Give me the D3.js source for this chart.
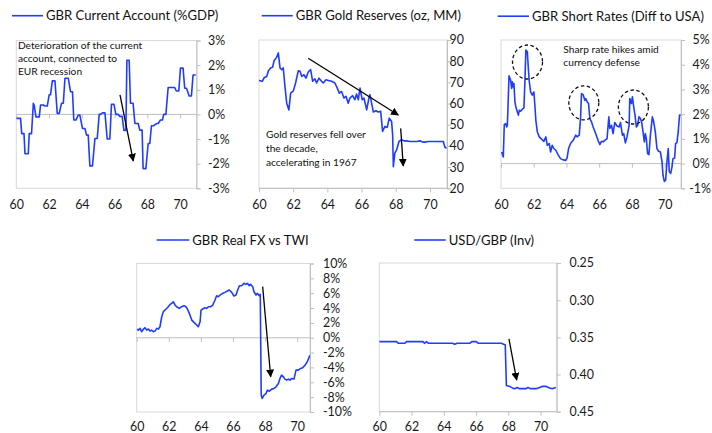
<!DOCTYPE html>
<html><head><meta charset="utf-8">
<script src="https://cdn.jsdelivr.net/npm/d3@7"></script>
<style>
html,body{margin:0;padding:0;background:#fff;}
svg{display:block;font-family:Lato,"Open Sans",sans-serif;}
</style></head><body>
<svg id="chart" width="712" height="433"></svg>
<script>
// ---- shared axis values ----
const yearTicks = [60, 62, 64, 66, 68, 70];

// ---- GBR current account, % of GDP ----
const caYears = [60.00,60.26,60.33,60.47,60.53,60.73,60.79,60.93,61.04,61.10,61.20,61.40,61.48,61.65,61.75,61.89,62.01,62.09,62.20,62.36,62.50,62.62,62.76,62.87,62.97,63.17,63.31,63.43,63.51,63.64,63.78,63.88,64.04,64.19,64.29,64.39,64.49,64.65,64.80,64.94,65.06,65.14,65.26,65.41,65.55,65.71,65.81,65.96,66.08,66.22,66.32,66.46,66.57,66.69,66.75,66.89,66.97,67.13,67.24,67.44,67.54,67.68,67.74,67.91,68.05,68.15,68.25,68.39,68.56,68.66,68.80,68.92,69.00,69.13,69.27,69.67,69.77,69.92,70.02,70.18,70.28,70.39,70.55,70.69,70.79,70.95];
const caValues = [-0.16,-0.16,-0.78,-0.78,-1.6,-1.6,-0.78,-0.78,0.45,0.35,-0.1,-0.1,0.38,0.38,0.34,0.34,0.8,0.8,1.36,1.36,0.04,0.04,0.45,0.45,1.47,1.47,0.92,0.92,-0.23,-0.23,-0.03,-0.03,-0.57,-0.57,-0.84,-0.84,-2.09,-2.09,-0.98,-0.98,0.0,0.0,0.06,0.06,-1.0,-1.0,0.41,0.41,0.0,0.0,-0.08,-0.08,-0.65,-0.65,2.2,2.2,0.45,0.45,-0.37,-0.37,-0.64,-0.64,-2.2,-2.2,-1.18,-1.18,-0.46,-0.46,-0.37,-0.37,-0.23,-0.23,0.0,0.0,1.09,1.09,0.95,0.95,1.88,1.88,1.06,1.06,0.75,0.75,1.6,1.6];
const caTicks = [-3, -2, -1, 0, 1, 2, 3];

// ---- GBR gold reserves, oz MM ----
const goldYears = [60.00,60.06,60.19,60.31,60.45,60.55,60.68,60.80,60.88,61.03,61.13,61.23,61.33,61.42,61.52,61.62,61.75,61.85,62.01,62.14,62.30,62.40,62.50,62.63,62.75,62.88,63.02,63.14,63.27,63.37,63.51,63.66,63.76,63.92,64.11,64.25,64.44,64.58,64.70,64.83,64.97,65.09,65.22,65.32,65.48,65.61,65.71,65.81,65.91,66.04,66.14,66.30,66.43,66.49,66.59,66.69,66.84,66.98,67.12,67.23,67.37,67.50,67.62,67.76,67.82,67.86,67.95,68.05,68.19,68.34,68.48,68.64,68.83,69.22,69.45,69.57,69.71,69.90,70.39,70.78,70.88,70.97];
const goldValues = [70.9,70.8,70.5,72.3,72.8,75.5,76.8,77.2,80.2,81.8,83.9,76.8,76.0,76.8,68.0,60.2,57.0,64.9,66.0,69.7,75.5,75.2,72.8,73.6,72.0,74.9,76.0,70.5,71.7,69.7,72.0,70.5,69.7,71.2,70.8,70.5,69.7,67.3,64.9,65.7,62.6,63.4,60.2,62.6,63.7,61.8,64.5,61.8,67.3,61.8,62.6,57.0,62.6,64.2,60.2,56.0,56.6,56.0,56.3,46.8,49.2,48.7,53.1,51.5,45.2,30.2,36.6,38.1,42.1,42.9,42.4,42.4,42.1,42.1,42.4,41.8,41.8,42.1,42.1,42.1,39.4,38.9];
const goldTicks = [20, 30, 40, 50, 60, 70, 80, 90];

// ---- GBR short rates, differential to USA, % ----
const rateYears = [60.04,60.14,60.20,60.28,60.35,60.39,60.49,60.59,60.65,60.69,60.75,60.79,60.85,60.91,61.00,61.06,61.12,61.20,61.30,61.40,61.46,61.52,61.61,61.67,61.73,61.81,61.91,62.01,62.07,62.13,62.22,62.34,62.48,62.62,62.74,62.83,62.95,63.03,63.13,63.23,63.35,63.50,63.64,63.80,63.96,64.04,64.13,64.25,64.41,64.57,64.65,64.78,64.86,64.92,65.02,65.12,65.18,65.26,65.35,65.43,65.53,65.63,65.79,65.93,66.04,66.14,66.24,66.34,66.48,66.59,66.65,66.75,66.85,66.95,67.09,67.22,67.30,67.42,67.50,67.60,67.70,67.83,67.87,67.97,68.03,68.11,68.19,68.27,68.35,68.43,68.52,68.60,68.68,68.76,68.82,68.88,68.96,69.04,69.13,69.25,69.33,69.43,69.53,69.63,69.74,69.84,69.90,69.98,70.06,70.14,70.22,70.28,70.37,70.45,70.51,70.61,70.67,70.75,70.83,70.91,70.98];
const rateValues = [0.47,0.27,1.58,1.62,1.48,1.55,3.55,3.37,3.04,3.31,3.1,3.24,2.5,2.29,2.09,1.96,2.16,2.12,2.2,2.25,3.31,4.59,4.52,3.85,3.31,2.9,2.77,2.9,2.36,1.75,1.28,1.08,0.99,0.9,1.08,0.74,0.81,0.47,0.74,0.61,0.54,0.34,0.2,0.15,0.13,0.23,0.61,0.81,0.94,1.15,1.08,1.15,1.82,2.83,2.79,2.56,2.63,2.5,2.43,1.82,1.69,1.48,1.21,0.94,0.77,0.9,0.88,0.94,1.01,1.89,1.42,1.55,1.21,1.66,1.52,1.48,1.66,1.15,1.21,0.84,1.08,1.55,2.63,2.43,2.7,2.29,1.96,1.48,1.55,1.89,1.82,1.66,1.28,0.88,1.21,1.01,0.4,0.36,1.15,1.89,1.69,1.28,0.61,0.5,0.47,0.07,-0.47,-0.72,-0.67,0.07,0.61,-0.31,-0.4,-0.13,0.2,0.23,0.81,0.85,1.28,1.96,1.96];
const rateTicks = [-1, 0, 1, 2, 3, 4, 5];

// ---- GBR real FX vs trade-weighted index, % ----
const fxYears = [60.00,60.10,60.21,60.31,60.42,60.52,60.62,60.73,60.83,60.93,61.04,61.14,61.25,61.35,61.45,61.56,61.66,61.83,61.97,62.08,62.18,62.28,62.39,62.49,62.66,62.80,62.95,63.07,63.16,63.28,63.43,63.57,63.74,63.84,63.95,64.01,64.11,64.26,64.36,64.47,64.61,64.74,64.88,64.98,65.09,65.19,65.36,65.50,65.65,65.77,65.92,66.06,66.19,66.27,66.40,66.54,66.69,66.81,66.90,67.02,67.10,67.23,67.31,67.44,67.52,67.64,67.70,67.76,67.82,67.93,68.06,68.14,68.27,68.41,68.56,68.68,68.83,68.93,69.03,69.14,69.24,69.35,69.45,69.55,69.66,69.80,69.93,70.07,70.22,70.34,70.49,70.63,70.80];
const fxValues = [1.17,1.03,1.26,0.81,1.17,1.35,1.03,1.17,0.9,1.03,0.81,0.9,1.26,1.17,1.48,2.83,3.51,3.87,4.18,4.49,4.63,4.85,4.4,4.18,3.96,4.18,4.31,4.18,3.87,3.28,2.38,2.07,1.71,1.48,2.16,3.73,3.87,4.04,3.96,4.18,4.18,4.4,5.08,5.66,5.53,5.75,5.98,6.11,6.29,6.43,6.11,5.62,5.75,6.29,7.01,7.01,7.33,7.19,7.33,7.01,7.19,6.88,6.2,5.75,5.98,5.66,5.84,-7.73,-8.18,-7.73,-7.51,-7.06,-7.19,-6.92,-6.83,-6.61,-6.16,-5.48,-5.03,-5.26,-5.57,-5.71,-5.57,-5.71,-5.48,-5.57,-4.36,-4.36,-4.13,-4.04,-3.69,-3.24,-2.34];
const fxTicks = [-10, -8, -6, -4, -2, 0, 2, 4, 6, 8, 10];

// ---- USD/GBP, inverted ----
const usdYears = [60.00,61.07,61.18,61.59,61.69,62.72,62.80,62.93,63.05,64.54,64.68,64.82,65.61,65.73,66.02,66.14,67.57,67.71,67.81,67.88,68.08,68.25,68.39,68.54,68.70,69.11,69.22,69.36,69.73,69.94,70.10,70.35,70.56,70.72,70.95];
const usdValues = [0.3558,0.3558,0.358,0.358,0.3558,0.3558,0.358,0.3558,0.358,0.358,0.3594,0.358,0.358,0.3558,0.3558,0.358,0.358,0.3594,0.360,0.4147,0.416,0.418,0.419,0.4175,0.419,0.419,0.4175,0.419,0.419,0.4175,0.416,0.416,0.418,0.419,0.4175];
const usdTicks = [0.25, 0.30, 0.35, 0.40, 0.45];

// ---- drawing ----
const BLUE = "#1f3cff";
const svg = d3.select("#chart");
const defs = svg.append("defs");
defs.append("marker").attr("id", "arrowHead")
  .attr("viewBox", "0 0 10 10").attr("refX", 9).attr("refY", 5)
  .attr("markerWidth", 8).attr("markerHeight", 8).attr("markerUnits", "userSpaceOnUse")
  .attr("orient", "auto")
  .append("path").attr("d", "M0,0 L10,5 L0,10 Z").attr("fill", "#000");

const panels = [
  { id: "ca", title: "GBR Current Account (%GDP)", years: caYears, values: caValues,
    box: { left: 16.3, right: 196.5, top: 40.5, bottom: 188.3 }, xDomain: [60, 71],
    yDomain: [-3, 3], yTicks: caTicks, fmt: d => d + "%", zeroAxis: true,
    labelLeft: 208, labelRight: 230, labelDrop: 16.3,
    legend: { x1: 12, x2: 43, y: 15.7 },
    notes: [{ x: 60.1, y: 2.78, lines: ["Deterioration of the current", "account, connected to", "EUR recession"], gap: 12.6 }],
    arrows: [[66.33, 0.79, 67.14, -1.89]], rings: [] },
  { id: "gold", title: "GBR Gold Reserves (oz, MM)", years: goldYears, values: goldValues,
    box: { left: 259, right: 447, top: 40, bottom: 188.3 }, xDomain: [60, 71],
    yDomain: [20, 90], yTicks: goldTicks, fmt: d => String(d), zeroAxis: false,
    labelLeft: 449.5, labelRight: 470, labelDrop: 16.3,
    legend: { x1: 261.7, x2: 292.7, y: 15.7 },
    notes: [{ x: 60.41, y: 45.2, lines: ["Gold reserves fell over", "the decade,", "accelerating in 1967"], gap: 13.8 }],
    arrows: [[62.88, 81.4, 68.15, 54.6], [68.29, 48.3, 68.44, 30.5]], rings: [] },
  { id: "rate", title: "GBR Short Rates (Diff to USA)", years: rateYears, values: rateValues,
    box: { left: 501, right: 681, top: 40, bottom: 188.3 }, xDomain: [60, 71],
    yDomain: [-1, 5], yTicks: rateTicks, fmt: d => d + "%", zeroAxis: true,
    labelLeft: 692.5, labelRight: 711, labelDrop: 16.3,
    legend: { x1: 497.7, x2: 529, y: 16.2 },
    notes: [{ x: 63.81, y: 4.6, lines: ["Sharp rate hikes amid", "currency defense"], gap: 12.7 }],
    arrows: [], rings: [[61.62, 4.11], [65.06, 2.46], [68.09, 2.29]] },
  { id: "fx", title: "GBR Real FX vs TWI", years: fxYears, values: fxValues,
    box: { left: 136.7, right: 310, top: 263.5, bottom: 412 }, xDomain: [60, 70.8],
    yDomain: [-10, 10], yTicks: fxTicks, fmt: d => d + "%", zeroAxis: true,
    labelLeft: 323, labelRight: 352, labelDrop: 14.2,
    legend: { x1: 156.7, x2: 189.3, y: 240 },
    notes: [], arrows: [[67.85, 6.88, 68.35, -5.25]], rings: [] },
  { id: "usd", title: "USD/GBP (Inv)", years: usdYears, values: usdValues,
    box: { left: 379.3, right: 556.7, top: 263, bottom: 411.7 }, xDomain: [60, 71],
    yDomain: [0.45, 0.25], yTicks: usdTicks, fmt: d3.format(".2f"), zeroAxis: false,
    labelLeft: 569.5, labelRight: 600, labelDrop: 14.5,
    legend: { x1: 414.3, x2: 445.7, y: 240 },
    notes: [], arrows: [[68.04, 0.3522, 68.52, 0.4074]], rings: [] }
];

panels.forEach(p => {
  const b = p.box;
  const g = svg.append("g").attr("class", "panel-" + p.id);
  const x = d3.scaleLinear().domain(p.xDomain).range([b.left, b.right]);
  const y = d3.scaleLinear().domain(p.yDomain).range([b.bottom, b.top]);

  // plot frame
  g.append("rect").attr("x", b.left).attr("y", b.top)
    .attr("width", b.right - b.left).attr("height", b.bottom - b.top)
    .attr("fill", "none").attr("stroke", "#d9d9d9").attr("stroke-width", 1);

  // value axis on the right, labels left-aligned next to it
  const yAxis = g.append("g").attr("transform", `translate(${b.right},0)`)
    .call(d3.axisRight(y).tickValues(p.yTicks).tickSize(4).tickFormat(p.fmt));
  yAxis.select(".domain").attr("stroke", "#bfbfbf");
  yAxis.selectAll(".tick line").attr("stroke", "#bfbfbf");
  yAxis.selectAll("text")
    .attr("fill", "#1a1a1a").style("font-size", "12.4px").style("font-family", "Lato")
    .attr("text-anchor", "start")
    .each(function () {
      const w = this.getComputedTextLength();
      const left = Math.min(p.labelLeft, p.labelRight - w);
      d3.select(this).attr("x", left - b.right);
    });

  // category axis: ticks on the zero line (or frame bottom), labels below the frame
  const axisY = p.zeroAxis ? y(0) : b.bottom;
  const xTicks = g.append("g").attr("transform", `translate(0,${axisY})`)
    .call(d3.axisBottom(x).tickValues(yearTicks).tickSize(4).tickFormat(""));
  xTicks.select(".domain").attr("stroke", "#bfbfbf").attr("d", `M${b.left},0H${b.right}`);
  xTicks.selectAll(".tick line").attr("stroke", "#bfbfbf");

  const xLabels = g.append("g").attr("transform", `translate(0,${b.bottom})`)
    .call(d3.axisBottom(x).tickValues(yearTicks).tickSize(0).tickFormat(d => String(d)));
  xLabels.select(".domain").remove();
  xLabels.selectAll("text").attr("y", p.labelDrop).attr("dy", "0.35em")
    .attr("fill", "#1a1a1a").style("font-size", "12.4px").style("font-family", "Lato");

  // series line
  const clipId = "clip-" + p.id;
  defs.append("clipPath").attr("id", clipId).append("rect")
    .attr("x", b.left).attr("y", b.top - 1).attr("width", b.right - b.left).attr("height", b.bottom - b.top + 2);
  const pts = p.years.map((yr, i) => [yr, p.values[i]]);
  g.append("path").datum(pts).attr("clip-path", `url(#${clipId})`)
    .attr("fill", "none").attr("stroke", BLUE).attr("stroke-width", 1.6)
    .attr("stroke-linejoin", "round")
    .attr("d", d3.line().x(d => x(d[0])).y(d => y(d[1])));

  // legend entry used as title
  g.append("line").attr("x1", p.legend.x1).attr("x2", p.legend.x2)
    .attr("y1", p.legend.y).attr("y2", p.legend.y)
    .attr("stroke", BLUE).attr("stroke-width", 1.6);
  g.append("text").attr("x", p.legend.x2 + 3).attr("y", p.legend.y).attr("dy", "0.35em")
    .attr("fill", "#111").style("font-size", "13.1px").text(p.title);

  // notes
  p.notes.forEach(n => {
    n.lines.forEach((t, i) => {
      g.append("text").attr("x", x(n.x)).attr("y", y(n.y) + i * n.gap).attr("dy", "0.35em")
        .attr("fill", "#111").style("font-size", "10.2px").text(t);
    });
  });

  // arrows
  p.arrows.forEach(a => {
    g.append("line").attr("x1", x(a[0])).attr("y1", y(a[1]))
      .attr("x2", x(a[2])).attr("y2", y(a[3]))
      .attr("stroke", "#000").attr("stroke-width", 1.3)
      .attr("marker-end", "url(#arrowHead)");
  });

  // dashed rings around rate spikes
  p.rings.forEach(r => {
    g.append("ellipse").attr("cx", x(r[0])).attr("cy", y(r[1]))
      .attr("rx", 15).attr("ry", 17)
      .attr("fill", "none").attr("stroke", "#111").attr("stroke-width", 1.3)
      .attr("stroke-dasharray", "3.5,2.5");
  });
});
</script>
</body></html>
